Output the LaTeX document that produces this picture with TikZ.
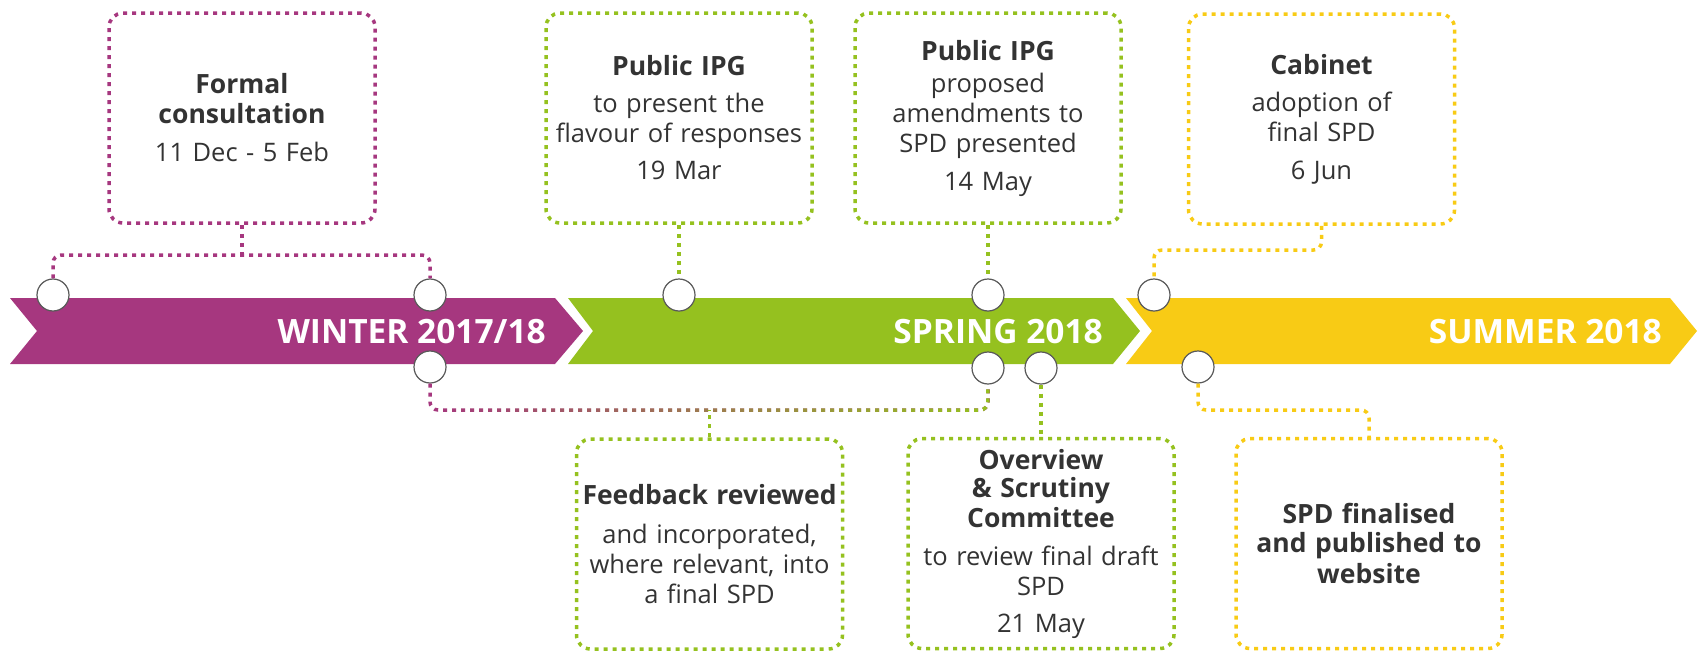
\documentclass[tikz,border=0pt]{standalone}
\usepackage{fontspec}
\setmainfont{Open Sans}
\usetikzlibrary{fadings}
\definecolor{winter}{HTML}{A6377F}
\definecolor{spring}{HTML}{95C11F}
\definecolor{summer}{HTML}{F8CB15}
\definecolor{ink}{HTML}{333333}
\newcommand{\evhead}{\fontsize{26.5}{28}\selectfont\bfseries}
\tikzfading[name=fade in east,left color=transparent!100,right color=transparent!0]
\tikzset{
  evbox/.style={rounded corners=14pt,line width=3.5pt,dash pattern=on 4pt off 5pt,
    minimum width=266pt,minimum height=210pt,text width=264pt,inner sep=0pt,
    align=center,text=ink,font=\fontsize{25.5}{30}\selectfont},
  link/.style={line width=3.5pt,dash pattern=on 4pt off 5pt,rounded corners=8pt},
  knob/.style={circle,draw=black!65,line width=1.2pt,fill=white,minimum size=32pt,inner sep=0pt},
  season/.style={anchor=base east,inner sep=0pt,text=white,font=\fontsize{33.5}{34}\selectfont\bfseries}
}

\begin{document}
\begin{tikzpicture}[x=1pt,y=-1pt]
  \useasboundingbox (0,0) rectangle (1703,653);
  % the three seasons
  \fill[winter] (10,298) -- (555,298) -- (583,331) -- (555,364) -- (10,364) -- (37,331) -- cycle;
  \fill[spring] (568,298) -- (1113,298) -- (1140,331) -- (1113,364) -- (568,364) -- (593,331) -- cycle;
  \fill[summer] (1126,298) -- (1670,298) -- (1697,331) -- (1670,364) -- (1126,364) -- (1152,331) -- cycle;
  \node[season] (lwinter) at (546,343) {WINTER 2017/18};
  \node[season] (lspring) at (1103,343) {SPRING 2018};
  \node[season] (lsummer) at (1662,343) {SUMMER 2018};
  % events above
  \node[evbox,draw=winter] (formal) at (242,118) {{\evhead Formal\\consultation}\\[8pt]11 Dec - 5 Feb};
  \node[evbox,draw=spring] (ipg1) at (679,118) {{\evhead Public IPG}\\[7pt]to present the\\flavour of responses\\[7pt]19 Mar};
  \node[evbox,draw=spring] (ipg2) at (988,118) {{\evhead Public IPG}\\[2pt]proposed\\amendments to\\SPD presented\\[8pt]14 May};
  \node[evbox,draw=summer] (cabinet) at (1321.5,119) {{\evhead Cabinet}\\[7pt]adoption of\\final SPD\\[8pt]6 Jun};
  % events below
  \node[evbox,draw=spring] (feedback) at (709.5,544) {{\evhead Feedback reviewed}\\[9pt]and incorporated,\\where relevant, into\\a final SPD};
  \node[evbox,draw=spring] (overview) at (1041,543.5) {{\evhead Overview\\\& Scrutiny\\Committee}\\[8pt]to review final draft\\SPD\\[7pt]21 May};
  \node[evbox,draw=summer] (finalised) at (1369,543.5) {{\evhead SPD finalised\\[1pt]and published to\\[1pt]website}};
  % markers on the band
  \node[knob] (w1) at (53,295) {};
  \node[knob] (w2) at (430,295) {};
  \node[knob] (w3) at (430,367) {};
  \node[knob] (s1) at (679,295) {};
  \node[knob] (s2) at (988,295) {};
  \node[knob] (s3) at (988,368) {};
  \node[knob] (s4) at (1041,368) {};
  \node[knob] (u1) at (1154,295) {};
  \node[knob] (u2) at (1198,367) {};
  % links
  \coordinate (fj) at (242,255);
  \coordinate (bj) at (709.5,410);
  \coordinate (cj) at (1321.5,250);
  \coordinate (pj) at (1369,410);
  \draw[link,winter] (formal) -- (fj);
  \draw[link,winter] (w1) |- (fj) -| (w2);
  \draw[link,spring] (ipg1) -- (s1);
  \draw[link,spring] (ipg2) -- (s2);
  \draw[link,winter] (w3) |- (bj) -| (s3);
  \draw[link,spring,path fading=fade in east] (w3) |- (bj) -| (s3);
  \draw[link,spring] (feedback) -- (bj);
  \draw[link,spring] (s4) -- (overview);
  \draw[link,summer] (cabinet) -- (cj) -| (u1);
  \draw[link,summer] (u2) |- (pj) -- (finalised);
\end{tikzpicture}
\end{document}
